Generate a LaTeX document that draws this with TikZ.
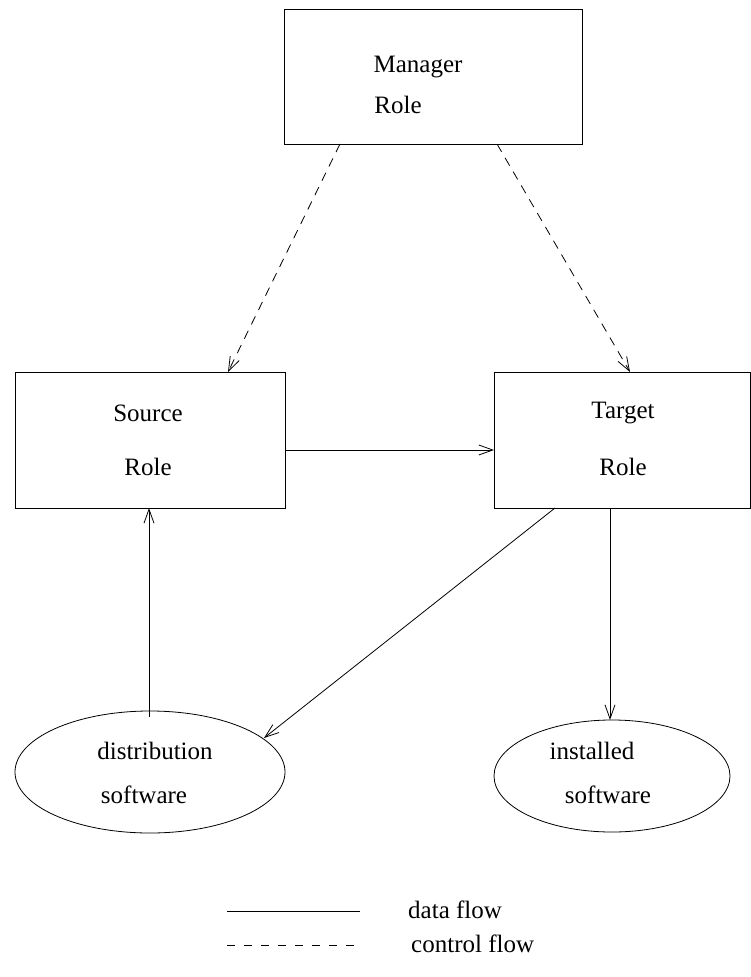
\documentclass[tikz,border=0pt]{standalone}
\usepackage{fontspec}
\setmainfont{Liberation Serif}
\usetikzlibrary{arrows.meta,shapes.geometric}
\begin{document}
\begin{tikzpicture}[x=1pt,y=-1pt,
  box/.style={draw,line width=0.8pt,inner sep=0pt},
  lbl/.style={font=\fontsize{25}{30}\selectfont,inner sep=0pt},
  flow/.style={line width=0.8pt,-{Straight Barb[length=14pt,width=10pt,line width=0.8pt]}},
  ctrl/.style={flow,dash pattern=on 9pt off 7pt}]
\useasboundingbox (0,0) rectangle (751,977);
% boxes
\node[box,minimum width=298pt,minimum height=135pt] (mgr) at (433,76.5) {};
\node[lbl] (mgr1) at (418,67) {Manager};
\node[lbl] (mgr2) at (398,105) {Role};

\node[box,minimum width=270pt,minimum height=136pt] (src) at (150,440) {};
\node[lbl] (src1) at (148,413) {Source};
\node[lbl] (src2) at (148,467) {Role};

\node[box,minimum width=256pt,minimum height=136pt] (tgt) at (622,440) {};
\node[lbl] (tgt1) at (623,413) {Target};
\node[lbl] (tgt2) at (623,467) {Role};

% ellipses
\node[box,ellipse,minimum width=270pt,minimum height=122pt] (dist) at (150,772) {};
\node[lbl] (dist1) at (155,751) {distribution};
\node[lbl] (dist2) at (144,795) {software};

\node[box,ellipse,minimum width=236pt,minimum height=112pt] (inst) at (612,776) {};
\node[lbl] (inst1) at (592,751) {installed};
\node[lbl] (inst2) at (608,795) {software};

% connectors
\coordinate (m1) at (340,144);
\coordinate (m2) at (497,144);
\coordinate (s1) at (228,372);
\coordinate (t1) at (630,372);
\draw[ctrl] (m1) -- (s1);
\draw[ctrl] (m2) -- (t1);
\coordinate (se) at (285,450);
\coordinate (tw) at (494,450);
\draw[flow] (se) -- (tw);
\coordinate (dtop) at (149,717);
\coordinate (sbot) at (149,508);
\draw[flow] (dtop) -- (sbot);
\coordinate (tb1) at (555,508);
\coordinate (de) at (264,738);
\draw[flow] (tb1) -- (de);
\coordinate (tb2) at (610,508);
\coordinate (it) at (610,720);
\draw[flow] (tb2) -- (it);

% legend
\coordinate (l1a) at (227,911);
\coordinate (l1b) at (360,911);
\draw[line width=0.8pt] (l1a) -- (l1b);
\node[lbl,anchor=west] (dl) at (408,910) {data flow};
\coordinate (l2a) at (227,945);
\coordinate (l2b) at (360,945);
\draw[line width=0.8pt,dash pattern=on 8pt off 9pt] (l2a) -- (l2b);
\node[lbl,anchor=west] (cl) at (411,944) {control flow};
\end{tikzpicture}
\end{document}
